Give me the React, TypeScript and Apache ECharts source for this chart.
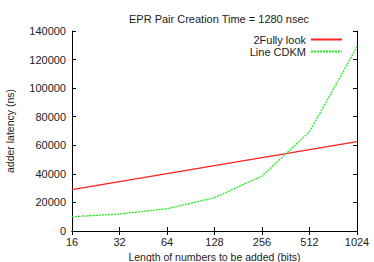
import React, { useEffect, useRef } from "react";
import * as echarts from "echarts";

const categories = ["16", "32", "64", "128", "256", "512", "1024"];
const fullyLook = [29000, 34600, 40100, 45700, 51300, 56900, 62500];
const lineCdkm = [10000, 11900, 15600, 23300, 38500, 69500, 129000];
const seriesNames = ["2Fully look", "Line CDKM"];
const title = "EPR Pair Creation Time = 1280 nsec";
const xName = "Length of numbers to be added (bits)";
const yName = "adder latency (ns)";

const FONT = "Liberation Sans";
const TXT = "#222";
const RED = "#ff2020";
const GREEN = "#22ee22";

export default function App() {
  const ref = useRef<HTMLDivElement>(null);
  useEffect(() => {
    if (!ref.current) return;
    const chart = echarts.init(ref.current, undefined, { renderer: "svg" });
    const axisLine = { show: true, lineStyle: { color: "#000", width: 1 } };
    chart.setOption({
      animation: false,
      backgroundColor: "#fff",
      textStyle: { fontFamily: FONT, color: TXT },
      title: {
        text: title,
        left: 214,
        textAlign: "center",
        top: 8,
        textStyle: { fontFamily: FONT, fontSize: 11, fontWeight: "normal", color: TXT },
      },
      legend: {
        orient: "vertical",
        right: 31,
        top: 34,
        align: "right",
        itemWidth: 31,
        itemHeight: 10,
        itemGap: 1,
        padding: 0,
        itemStyle: { opacity: 0 },
        textStyle: { fontFamily: FONT, fontSize: 11, color: TXT, padding: [0, 0, 0, 0] },
        data: seriesNames,
      },
      grid: { left: 72, right: 17, top: 31, bottom: 31, containLabel: false, outerBoundsMode: "none" },
      xAxis: [
        {
          type: "category",
          data: categories,
          boundaryGap: false,
          position: "bottom",
          name: xName,
          nameLocation: "middle",
          nameGap: 19,
          nameTextStyle: { fontFamily: FONT, fontSize: 10.5, color: TXT },
          axisLine,
          axisTick: { show: true, inside: true, length: 4, alignWithLabel: true, lineStyle: { color: "#000" } },
          axisLabel: { fontFamily: FONT, fontSize: 11, color: TXT, margin: 5 },
          splitLine: { show: false },
        },
        {
          type: "category",
          data: categories,
          boundaryGap: false,
          position: "top",
          axisLine,
          axisTick: { show: true, inside: true, length: 4, lineStyle: { color: "#000" } },
          axisLabel: { show: false },
          splitLine: { show: false },
        },
      ],
      yAxis: [
        {
          type: "value",
          min: 0,
          max: 140000,
          interval: 20000,
          position: "left",
          name: yName,
          nameLocation: "middle",
          nameGap: 57,
          nameTextStyle: { fontFamily: FONT, fontSize: 10.5, color: TXT },
          axisLine,
          axisTick: { show: true, inside: true, length: 4, lineStyle: { color: "#000" } },
          axisLabel: { fontFamily: FONT, fontSize: 11, color: TXT, margin: 6, formatter: (v: number) => String(v) },
          splitLine: { show: false },
        },
        {
          type: "value",
          min: 0,
          max: 140000,
          interval: 20000,
          position: "right",
          axisLine,
          axisTick: { show: true, inside: true, length: 4, lineStyle: { color: "#000" } },
          axisLabel: { show: false },
          splitLine: { show: false },
        },
      ],
      series: [
        {
          name: seriesNames[0],
          type: "line",
          data: fullyLook,
          symbol: "none",
          lineStyle: { color: RED, width: 1.2 },
          itemStyle: { color: RED },
        },
        {
          name: seriesNames[1],
          type: "line",
          data: lineCdkm,
          symbol: "none",
          lineStyle: { color: GREEN, width: 1.3, type: [2, 1] },
          itemStyle: { color: GREEN },
        },
      ],
    });
    return () => chart.dispose();
  }, []);
  return <div ref={ref} style={{ width: 374, height: 262, position: "absolute", left: 0, top: 0 }} />;
}
